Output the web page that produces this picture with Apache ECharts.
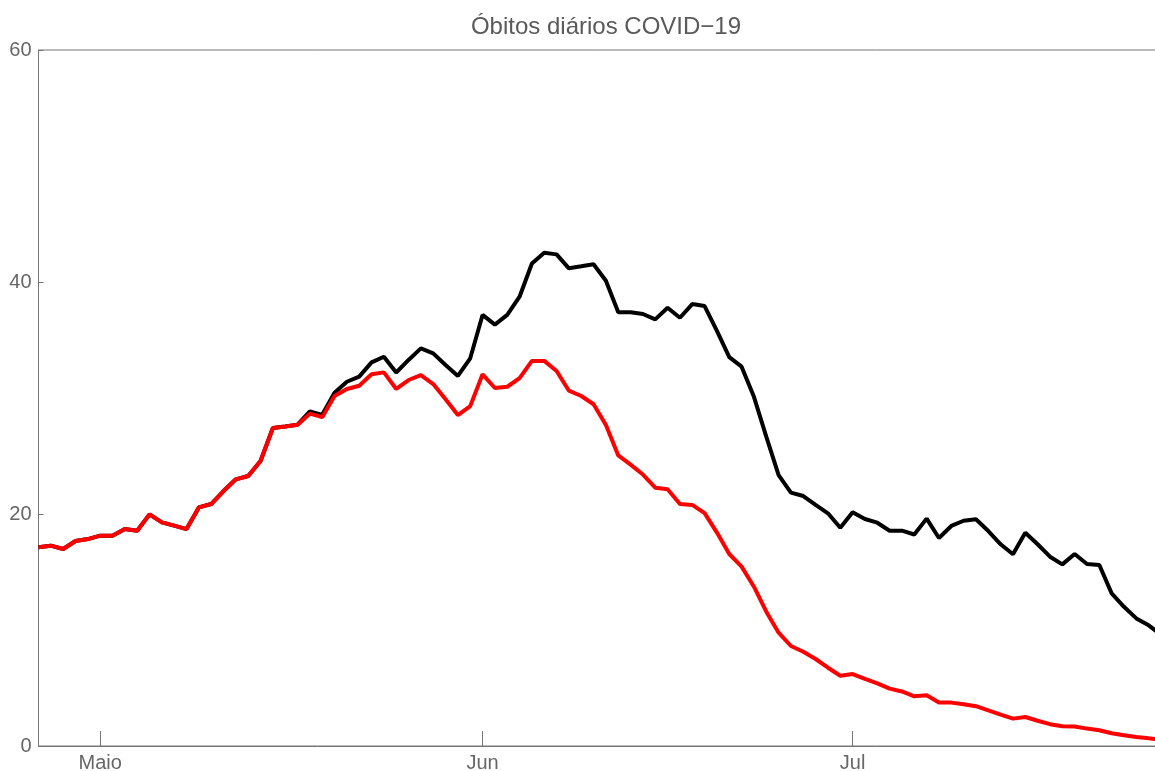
<!DOCTYPE html>
<html>
<head>
<meta charset="utf-8">
<script src="https://cdn.jsdelivr.net/npm/echarts@6/dist/echarts.min.js"></script>
<style>
  html, body { margin: 0; padding: 0; background: #fff; }
  #chart { width: 1155px; height: 771px; }
</style>
</head>
<body>
<div id="chart"></div>
<script>
// dias de 26/04 a 26/07
const startDate = "2020-04-26"
const monthNames = { 5: "Maio", 6: "Jun", 7: "Jul" }
const yTicks = [0, 20, 40, 60]

// óbitos (curva preta)
const obitosTotal = [
  17.13, 17.27, 16.98, 17.67, 17.84, 18.13, 18.13, 18.7, 18.56, 19.97,
  19.28, 19.0, 18.7, 20.57, 20.86, 21.98, 22.99, 23.28, 24.57, 27.42,
  27.55, 27.7, 28.85, 28.55, 30.46, 31.4, 31.84, 33.07, 33.56, 32.2,
  33.28, 34.28, 33.85, 32.84, 31.9, 33.42, 37.16, 36.33, 37.16, 38.73,
  41.6, 42.53, 42.38, 41.18, 41.35, 41.53, 40.11, 37.39, 37.39, 37.24,
  36.78, 37.78, 36.92, 38.1, 37.93, 35.78, 33.53, 32.7, 30.1, 26.67,
  23.36, 21.84, 21.55, 20.78, 20.06, 18.82, 20.15, 19.57, 19.25, 18.56,
  18.56, 18.23, 19.6, 17.93, 18.97, 19.42, 19.55, 18.53, 17.39, 16.53,
  18.39, 17.39, 16.32, 15.66, 16.55, 15.69, 15.6, 13.16, 12.0, 11.0,
  10.4, 9.6
]

// óbitos (curva vermelha)
const obitosRed = [
  17.13, 17.27, 16.98, 17.67, 17.84, 18.13, 18.13, 18.7, 18.56, 19.97,
  19.28, 19.0, 18.7, 20.57, 20.86, 21.98, 22.99, 23.28, 24.57, 27.42,
  27.55, 27.7, 28.65, 28.35, 30.17, 30.78, 31.06, 32.04, 32.21, 30.78,
  31.55, 31.98, 31.2, 29.9, 28.53, 29.3, 32.04, 30.86, 30.97, 31.72,
  33.2, 33.2, 32.33, 30.63, 30.17, 29.46, 27.67, 25.05, 24.26, 23.4,
  22.27, 22.13, 20.86, 20.78, 20.08, 18.4, 16.55, 15.46, 13.73, 11.58,
  9.77, 8.62, 8.13, 7.5, 6.75, 6.06, 6.2, 5.78, 5.4, 4.95,
  4.7, 4.28, 4.37, 3.75, 3.74, 3.6, 3.43, 3.07, 2.7, 2.36,
  2.5, 2.18, 1.88, 1.7, 1.68, 1.5, 1.36, 1.1, 0.92, 0.78,
  0.66, 0.56
]

const dates = []
const d0 = new Date(startDate + "T00:00:00Z")
for (let i = 0; i < obitosTotal.length; i++) {
  const d = new Date(d0.getTime() + i * 86400000)
  dates.push(d.toISOString().slice(0, 10))
}

const isFirstOfMonth = (idx) => dates[idx].slice(8, 10) === "01"
const font = "Liberation Sans, Arial, sans-serif"
const axisColor = "#777"

const chart = echarts.init(document.getElementById("chart"))
const option = {
  animation: false,
  backgroundColor: "#fff",
  title: {
    text: "Óbitos diários COVID−19",
    left: 601,
    top: 10,
    textAlign: "center",
    textStyle: { fontFamily: font, fontSize: 24, fontWeight: "normal", color: "#5a5a5a" },
  },
  grid: {
    left: 38.5,
    right: -6,
    top: 50,
    bottom: 25,
    outerBoundsMode: "none",
    containLabel: false,
    show: true,
    borderColor: axisColor,
    borderWidth: 1,
  },
  xAxis: {
    type: "category",
    data: dates,
    boundaryGap: false,
    axisLine: { lineStyle: { color: axisColor, width: 1 } },
    axisTick: {
      inside: true,
      length: 15,
      interval: (idx) => isFirstOfMonth(idx),
      lineStyle: { color: axisColor },
    },
    axisLabel: {
      interval: (idx) => isFirstOfMonth(idx),
      formatter: (v) => monthNames[parseInt(v.slice(5, 7), 10)],
      margin: 7,
      fontFamily: font,
      fontSize: 20,
      color: "#666",
    },
    splitLine: { show: false },
  },
  yAxis: {
    type: "value",
    min: yTicks[0],
    max: yTicks[yTicks.length - 1],
    interval: 20,
    axisLine: { show: true, lineStyle: { color: axisColor, width: 1 } },
    axisTick: { show: true, inside: true, length: 5, lineStyle: { color: axisColor } },
    axisLabel: { margin: 7, fontFamily: font, fontSize: 20, color: "#666" },
    splitLine: { show: false },
  },
  series: [
    {
      name: "total",
      type: "line",
      data: obitosTotal,
      showSymbol: false,
      lineStyle: { color: "#000", width: 4 },
      itemStyle: { color: "#000" },
    },
    {
      name: "vermelho",
      type: "line",
      data: obitosRed,
      showSymbol: false,
      lineStyle: { color: "#ff0000", width: 4 },
      itemStyle: { color: "#ff0000" },
    },
  ],
}
chart.setOption(option)
</script>
</body>
</html>
